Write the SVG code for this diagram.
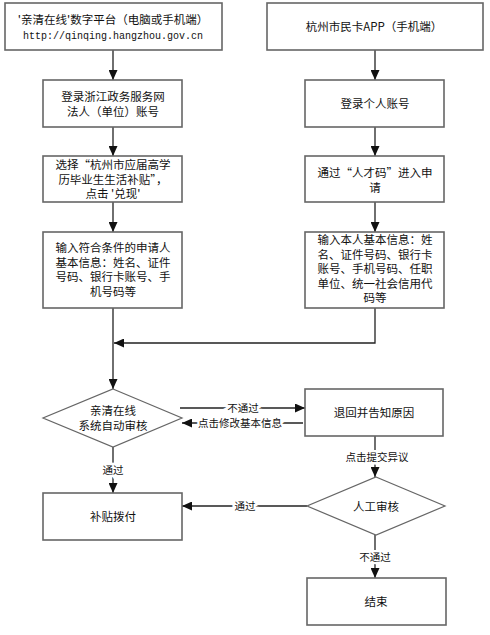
<svg xmlns="http://www.w3.org/2000/svg" width="490" height="635" viewBox="0 0 490 635">
<style>
.box{fill:#fff;stroke:#666;stroke-width:1.6}
.dia{fill:#fff;stroke:#666;stroke-width:1.2}
.t{font-family:"Noto Sans CJK SC","Noto Sans",sans-serif;font-size:11.5px;fill:#111;text-anchor:middle}
.m{font-family:"Liberation Mono",monospace;font-size:10px;fill:#111;text-anchor:middle}
.lbl{font-family:"Noto Sans CJK SC","Noto Sans",sans-serif;font-size:10.5px;fill:#111;text-anchor:middle;stroke:#fff;stroke-width:5;paint-order:stroke}
.c{fill:none;stroke:#222;stroke-width:1.3;marker-end:url(#ah)}
</style>
<defs>
<marker id="ah" markerUnits="userSpaceOnUse" markerWidth="10" markerHeight="9" refX="10" refY="4.5" orient="auto">
<path d="M0,0 L10,4.5 L0,9 z" fill="#111"/>
</marker>
</defs>
<g id="connectors">
<path class="c" d="M113,50 V80"/>
<path class="c" d="M113,127 V156"/>
<path class="c" d="M113,202 V232"/>
<path class="c" d="M113,308 V389"/>
<path class="c" d="M375,50 V80"/>
<path class="c" d="M375,127 V156"/>
<path class="c" d="M375,202 V232"/>
<path class="c" d="M375,308 V343 H114"/>
<path class="c" d="M180,408 H305"/>
<path class="c" d="M303,423 H182"/>
<path class="c" d="M375,436 V477"/>
<path class="c" d="M113,447 V493"/>
<path class="c" d="M307,506 H182"/>
<path class="c" d="M375,535 V578"/>
<text class="lbl" x="243" y="412">不通过</text>
<text class="lbl" x="240" y="427">点击修改基本信息</text>
<text class="lbl" x="377" y="461">点击提交异议</text>
<text class="lbl" x="113" y="474">通过</text>
<text class="lbl" x="245" y="510">通过</text>
<text class="lbl" x="375" y="561">不通过</text>
</g>
<g id="n1">
<rect class="box" x="5" y="3" width="217" height="47"/>
<text class="t" x="113" y="24">'亲清在线'数字平台（电脑或手机端）</text>
<text class="m" x="113" y="38.5">http://qinqing.hangzhou.gov.cn</text>
</g>
<g id="n2">
<rect class="box" x="43" y="80" width="139" height="47"/>
<text class="t" x="113" y="101">登录浙江政务服务网</text>
<text class="t" x="113" y="115.5">法人（单位）账号</text>
</g>
<g id="n3">
<rect class="box" x="43" y="156" width="139" height="46"/>
<text class="t" x="113" y="169">选择“杭州市应届高学</text>
<text class="t" x="113" y="183.5">历毕业生生活补贴”，</text>
<text class="t" x="113" y="198">点击 '兑现'</text>
</g>
<g id="n4">
<rect class="box" x="43" y="232" width="139" height="76"/>
<text class="t" x="113" y="252">输入符合条件的申请人</text>
<text class="t" x="113" y="266.5">基本信息：姓名、证件</text>
<text class="t" x="113" y="281">号码、银行卡账号、手</text>
<text class="t" x="113" y="295.5">机号码等</text>
</g>
<g id="r1">
<rect class="box" x="267" y="3" width="216" height="47"/>
<text class="t" x="374" y="31">杭州市民卡APP（手机端）</text>
</g>
<g id="r2">
<rect class="box" x="305" y="80" width="139" height="47"/>
<text class="t" x="375" y="107.5">登录个人账号</text>
</g>
<g id="r3">
<rect class="box" x="305" y="156" width="139" height="46"/>
<text class="t" x="375" y="177">通过“人才码”进入申</text>
<text class="t" x="375" y="191.5">请</text>
</g>
<g id="r4">
<rect class="box" x="305" y="232" width="139" height="76"/>
<text class="t" x="375" y="244">输入本人基本信息：姓</text>
<text class="t" x="375" y="258.5">名、证件号码、银行卡</text>
<text class="t" x="375" y="273">账号、手机号码、任职</text>
<text class="t" x="375" y="287.5">单位、统一社会信用代</text>
<text class="t" x="375" y="302">码等</text>
</g>
<g id="d1">
<polygon class="dia" points="113,389 182,418 113,447 43,418"/>
<text class="t" x="113" y="415">亲清在线</text>
<text class="t" x="113" y="430">系统自动审核</text>
</g>
<g id="back">
<rect class="box" x="305" y="389" width="138" height="47"/>
<text class="t" x="374" y="417">退回并告知原因</text>
</g>
<g id="d2">
<polygon class="dia" points="376,477 445,506 376,535 307,506"/>
<text class="t" x="376" y="510.5">人工审核</text>
</g>
<g id="pay">
<rect class="box" x="43" y="493" width="139" height="47"/>
<text class="t" x="113" y="521">补贴拨付</text>
</g>
<g id="end">
<rect class="box" x="307" y="578" width="139" height="47"/>
<text class="t" x="376" y="605.5">结束</text>
</g>
</svg>
